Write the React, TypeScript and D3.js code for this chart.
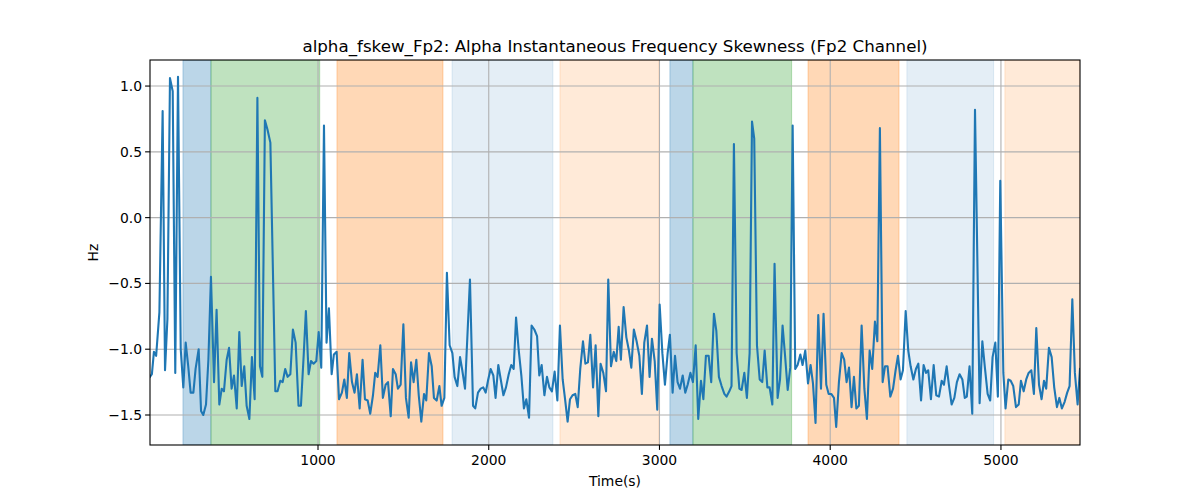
import React from 'react';
import * as d3 from 'd3';

// alpha instantaneous frequency skewness, Fp2 channel: [time (s), value (Hz)]
const fskewSamples: [number, number][] = [
  [16, -1.21], [27, -1.19], [39, -1.02], [52, -1.05], [71, -0.72], [90, 0.81], [104, -1.16], [118, -0.77],
  [133, 1.06], [149, 0.96], [164, -1.18], [180, 1.07], [196, -1.0], [211, -1.29], [225, -0.95], [240, -1.13],
  [254, -1.33], [270, -1.33], [283, -1.15], [301, -1.0], [315, -1.47], [328, -1.5], [344, -1.42], [358, -1.08],
  [373, -0.45], [391, -1.25], [406, -0.7], [422, -1.42], [436, -1.3], [449, -1.32], [465, -1.08], [479, -0.99],
  [494, -1.3], [508, -1.2], [524, -1.45], [539, -0.87], [553, -1.28], [568, -1.13], [582, -1.43], [598, -1.53],
  [613, -1.06], [629, -1.38], [645, 0.91], [660, -1.13], [674, -1.21], [689, 0.74], [704, 0.67], [721, 0.57],
  [750, -1.32], [763, -1.32], [779, -1.24], [793, -1.25], [808, -1.15], [822, -1.21], [838, -1.19], [853, -0.85],
  [869, -0.95], [886, -1.43], [900, -1.43], [916, -1.05], [929, -0.71], [945, -1.19], [959, -1.09], [974, -1.11],
  [990, -1.09], [1004, -0.87], [1019, -1.14], [1035, 0.7], [1050, -0.95], [1064, -0.69], [1080, -1.19], [1093, -1.04],
  [1109, -1.02], [1123, -1.38], [1140, -1.33], [1154, -1.23], [1169, -1.37], [1183, -1.03], [1199, -1.25], [1214, -1.33],
  [1228, -1.19], [1244, -1.45], [1261, -1.08], [1275, -1.38], [1291, -1.39], [1306, -1.49], [1322, -1.35], [1335, -1.18],
  [1349, -1.21], [1365, -0.97], [1380, -1.37], [1396, -1.27], [1410, -1.25], [1426, -1.51], [1439, -1.15], [1455, -1.19],
  [1468, -1.3], [1484, -1.27], [1500, -0.81], [1515, -1.37], [1531, -1.52], [1545, -1.1], [1560, -1.25], [1576, -1.08],
  [1590, -1.35], [1605, -1.55], [1621, -1.34], [1634, -1.39], [1650, -1.03], [1666, -1.13], [1679, -1.37], [1695, -1.39],
  [1711, -1.28], [1724, -1.43], [1740, -1.37], [1755, -0.42], [1771, -0.97], [1787, -1.03], [1800, -1.21], [1816, -1.28],
  [1832, -1.06], [1845, -1.16], [1861, -1.3], [1890, -0.47], [1908, -1.43], [1921, -1.45], [1937, -1.33], [1953, -1.3],
  [1968, -1.29], [1982, -1.33], [1997, -1.23], [2011, -1.15], [2027, -1.2], [2040, -1.37], [2056, -1.12], [2086, -1.35],
  [2101, -1.29], [2117, -1.19], [2132, -1.12], [2146, -1.15], [2160, -0.76], [2175, -1.0], [2191, -1.2], [2206, -1.45],
  [2220, -1.38], [2236, -1.52], [2251, -0.82], [2267, -0.85], [2283, -0.9], [2296, -1.2], [2310, -1.12], [2326, -1.35],
  [2341, -1.21], [2355, -1.29], [2370, -1.32], [2386, -1.17], [2402, -1.39], [2417, -0.82], [2433, -1.23], [2447, -1.38],
  [2462, -1.55], [2476, -1.38], [2491, -1.35], [2507, -1.34], [2521, -1.44], [2536, -1.15], [2552, -0.94], [2566, -1.11],
  [2581, -1.1], [2595, -0.89], [2611, -1.29], [2626, -0.97], [2642, -1.51], [2655, -1.11], [2671, -1.18], [2687, -1.32],
  [2700, -0.47], [2716, -1.13], [2732, -1.02], [2747, -1.09], [2761, -0.83], [2774, -1.08], [2790, -0.68], [2806, -0.91],
  [2821, -1.01], [2835, -1.14], [2850, -0.85], [2866, -0.94], [2882, -1.05], [2897, -1.34], [2911, -0.95], [2927, -0.82],
  [2942, -1.21], [2956, -0.92], [2972, -1.09], [2987, -1.46], [3001, -0.66], [3017, -1.03], [3032, -1.27], [3048, -1.03],
  [3061, -0.89], [3077, -1.33], [3091, -1.05], [3106, -1.25], [3120, -1.3], [3136, -1.2], [3151, -1.33], [3165, -1.27],
  [3181, -1.18], [3196, -1.25], [3212, -0.97], [3227, -1.53], [3243, -1.24], [3257, -1.38], [3272, -1.05], [3288, -1.05],
  [3303, -1.25], [3319, -0.73], [3333, -0.86], [3348, -1.21], [3364, -1.28], [3380, -1.34], [3393, -1.36], [3409, -1.32],
  [3422, -1.28], [3436, 0.56], [3452, -1.03], [3468, -1.3], [3481, -1.31], [3497, -1.18], [3512, -1.37], [3528, -1.03],
  [3542, 0.73], [3555, 0.6], [3571, -0.97], [3587, -1.23], [3602, -1.25], [3616, -1.01], [3632, -1.29], [3645, -1.29],
  [3661, -1.42], [3674, -0.35], [3692, -1.37], [3706, -1.23], [3721, -0.82], [3735, -1.04], [3751, -1.31], [3766, -1.14],
  [3780, 0.7], [3795, -1.15], [3809, -1.12], [3825, -1.04], [3838, -1.12], [3854, -1.01], [3870, -1.26], [3885, -1.12],
  [3899, -1.26], [3914, -1.56], [3930, -0.74], [3946, -1.3], [3961, -0.73], [3977, -1.27], [3991, -1.34], [4006, -1.34],
  [4022, -1.37], [4035, -1.59], [4051, -1.25], [4067, -1.03], [4082, -1.08], [4096, -1.25], [4110, -1.14], [4125, -1.44],
  [4139, -1.21], [4153, -1.45], [4168, -1.43], [4184, -0.82], [4200, -1.3], [4215, -1.53], [4231, -1.01], [4246, -1.15],
  [4262, -0.79], [4276, -0.94], [4291, 0.68], [4307, -1.25], [4321, -1.13], [4336, -1.13], [4352, -1.36], [4368, -1.3],
  [4383, -1.16], [4397, -1.05], [4412, -1.23], [4426, -1.16], [4442, -0.71], [4457, -1.01], [4471, -1.13], [4487, -1.23],
  [4502, -1.15], [4516, -1.11], [4532, -1.39], [4547, -1.12], [4561, -1.18], [4574, -1.16], [4590, -1.38], [4606, -1.12],
  [4621, -1.35], [4637, -1.36], [4653, -1.24], [4666, -1.27], [4682, -1.13], [4695, -1.27], [4711, -1.42], [4727, -1.37],
  [4742, -1.25], [4758, -1.19], [4774, -1.23], [4788, -1.37], [4800, -1.36], [4816, -1.13], [4832, -1.49], [4848, 0.82],
  [4875, -1.41], [4891, -0.94], [4906, -1.14], [4922, -1.34], [4937, -1.39], [4951, -1.06], [4967, -0.95], [4982, -1.36],
  [4996, 0.28], [5014, -1.18], [5027, -1.45], [5043, -1.23], [5057, -1.24], [5072, -1.28], [5088, -1.44], [5104, -1.42],
  [5117, -1.24], [5133, -1.32], [5148, -1.23], [5162, -1.18], [5178, -1.16], [5193, -1.34], [5207, -0.84], [5223, -1.27],
  [5238, -1.38], [5252, -1.24], [5265, -1.3], [5281, -0.99], [5297, -1.06], [5312, -1.29], [5328, -1.44], [5342, -1.37],
  [5357, -1.45], [5373, -1.4], [5388, -1.33], [5402, -1.28], [5418, -0.62], [5433, -1.18], [5449, -1.42], [5463, -1.15],
];

// shaded intervals: [start, end] in seconds
const blueSpans = [[209, 373], [3061, 3196]];
const greenSpans = [[373, 1010], [3196, 3774]];
const orangeSpans = [[1111, 1732], [3870, 4403]];
const paleBlueSpans = [[1785, 2376], [4449, 4957]];
const paleOrangeSpans = [[2417, 2997], [5023, 5463]];

const xTicks = [1000, 2000, 3000, 4000, 5000];
const yTicks = [-1.5, -1.0, -0.5, 0.0, 0.5, 1.0];

const WIDTH = 1200;
const HEIGHT = 500;
const margin = { top: 60, right: 120, bottom: 55, left: 150 };
const FONT = 'DejaVu Sans, sans-serif';

const fmtY = (v: number) => d3.format('.1f')(v).replace('-', '\u2212');

export default function App() {
  const x = d3.scaleLinear().domain([16, 5463]).range([margin.left, WIDTH - margin.right]);
  const y = d3.scaleLinear().domain([-1.728, 1.198]).range([HEIGHT - margin.bottom, margin.top]);

  const line = d3
    .line<[number, number]>()
    .x(d => x(d[0]))
    .y(d => y(d[1]));

  const spanGroups = [
    { spans: blueSpans, color: '#1f77b4', alpha: 0.3 },
    { spans: greenSpans, color: '#2ca02c', alpha: 0.3 },
    { spans: orangeSpans, color: '#ff7f0e', alpha: 0.3 },
    { spans: paleBlueSpans, color: '#1f77b4', alpha: 0.12 },
    { spans: paleOrangeSpans, color: '#ff7f0e', alpha: 0.16 },
  ];

  const top = margin.top;
  const bottom = HEIGHT - margin.bottom;
  const left = margin.left;
  const right = WIDTH - margin.right;

  return (
    <div style={{ position: 'absolute', left: 0, top: 0 }}>
      <svg width={WIDTH} height={HEIGHT} style={{ display: 'block', background: '#fff' }}>
        <defs>
          <clipPath id="plot-area">
            <rect x={left} y={top} width={right - left} height={bottom - top} />
          </clipPath>
        </defs>

        {/* shaded spans */}
        <g clipPath="url(#plot-area)">
          {spanGroups.map((g, gi) =>
            g.spans.map((s, i) => (
              <rect
                key={`${gi}-${i}`}
                x={x(s[0])}
                y={top}
                width={x(s[1]) - x(s[0])}
                height={bottom - top}
                fill={g.color}
                fillOpacity={g.alpha}
                stroke={g.color}
                strokeOpacity={g.alpha}
                strokeWidth={1}
              />
            ))
          )}
        </g>

        {/* grid */}
        <g stroke="#b0b0b0" strokeWidth={1.1}>
          {xTicks.map(t => (
            <line key={`gx${t}`} x1={x(t)} x2={x(t)} y1={top} y2={bottom} />
          ))}
          {yTicks.map(t => (
            <line key={`gy${t}`} x1={left} x2={right} y1={y(t)} y2={y(t)} />
          ))}
        </g>

        {/* series */}
        <g clipPath="url(#plot-area)">
          <path
            d={line(fskewSamples) || ''}
            fill="none"
            stroke="#1f77b4"
            strokeWidth={2.1}
            strokeLinejoin="round"
            strokeLinecap="square"
          />
        </g>

        {/* frame */}
        <rect x={left} y={top} width={right - left} height={bottom - top} fill="none" stroke="#000" strokeWidth={1.1} />

        {/* x axis */}
        <g fontFamily={FONT} fontSize={13.9} fill="#000">
          {xTicks.map(t => (
            <g key={`xt${t}`}>
              <line x1={x(t)} x2={x(t)} y1={bottom} y2={bottom + 4.9} stroke="#000" strokeWidth={1.1} />
              <text x={x(t)} y={bottom + 20} textAnchor="middle">
                {t}
              </text>
            </g>
          ))}
          {yTicks.map(t => (
            <g key={`yt${t}`}>
              <line x1={left - 4.9} x2={left} y1={y(t)} y2={y(t)} stroke="#000" strokeWidth={1.1} />
              <text x={left - 8} y={y(t)} dy="0.36em" textAnchor="end">
                {fmtY(t)}
              </text>
            </g>
          ))}
          <text x={(left + right) / 2} y={486} textAnchor="middle">
            Time(s)
          </text>
          <text transform={`translate(98, ${(top + bottom) / 2}) rotate(-90)`} textAnchor="middle">
            Hz
          </text>
        </g>

        <text x={(left + right) / 2} y={52} textAnchor="middle" fontFamily={FONT} fontSize={16.7} fill="#000">
          alpha_fskew_Fp2: Alpha Instantaneous Frequency Skewness (Fp2 Channel)
        </text>
      </svg>
    </div>
  );
}
